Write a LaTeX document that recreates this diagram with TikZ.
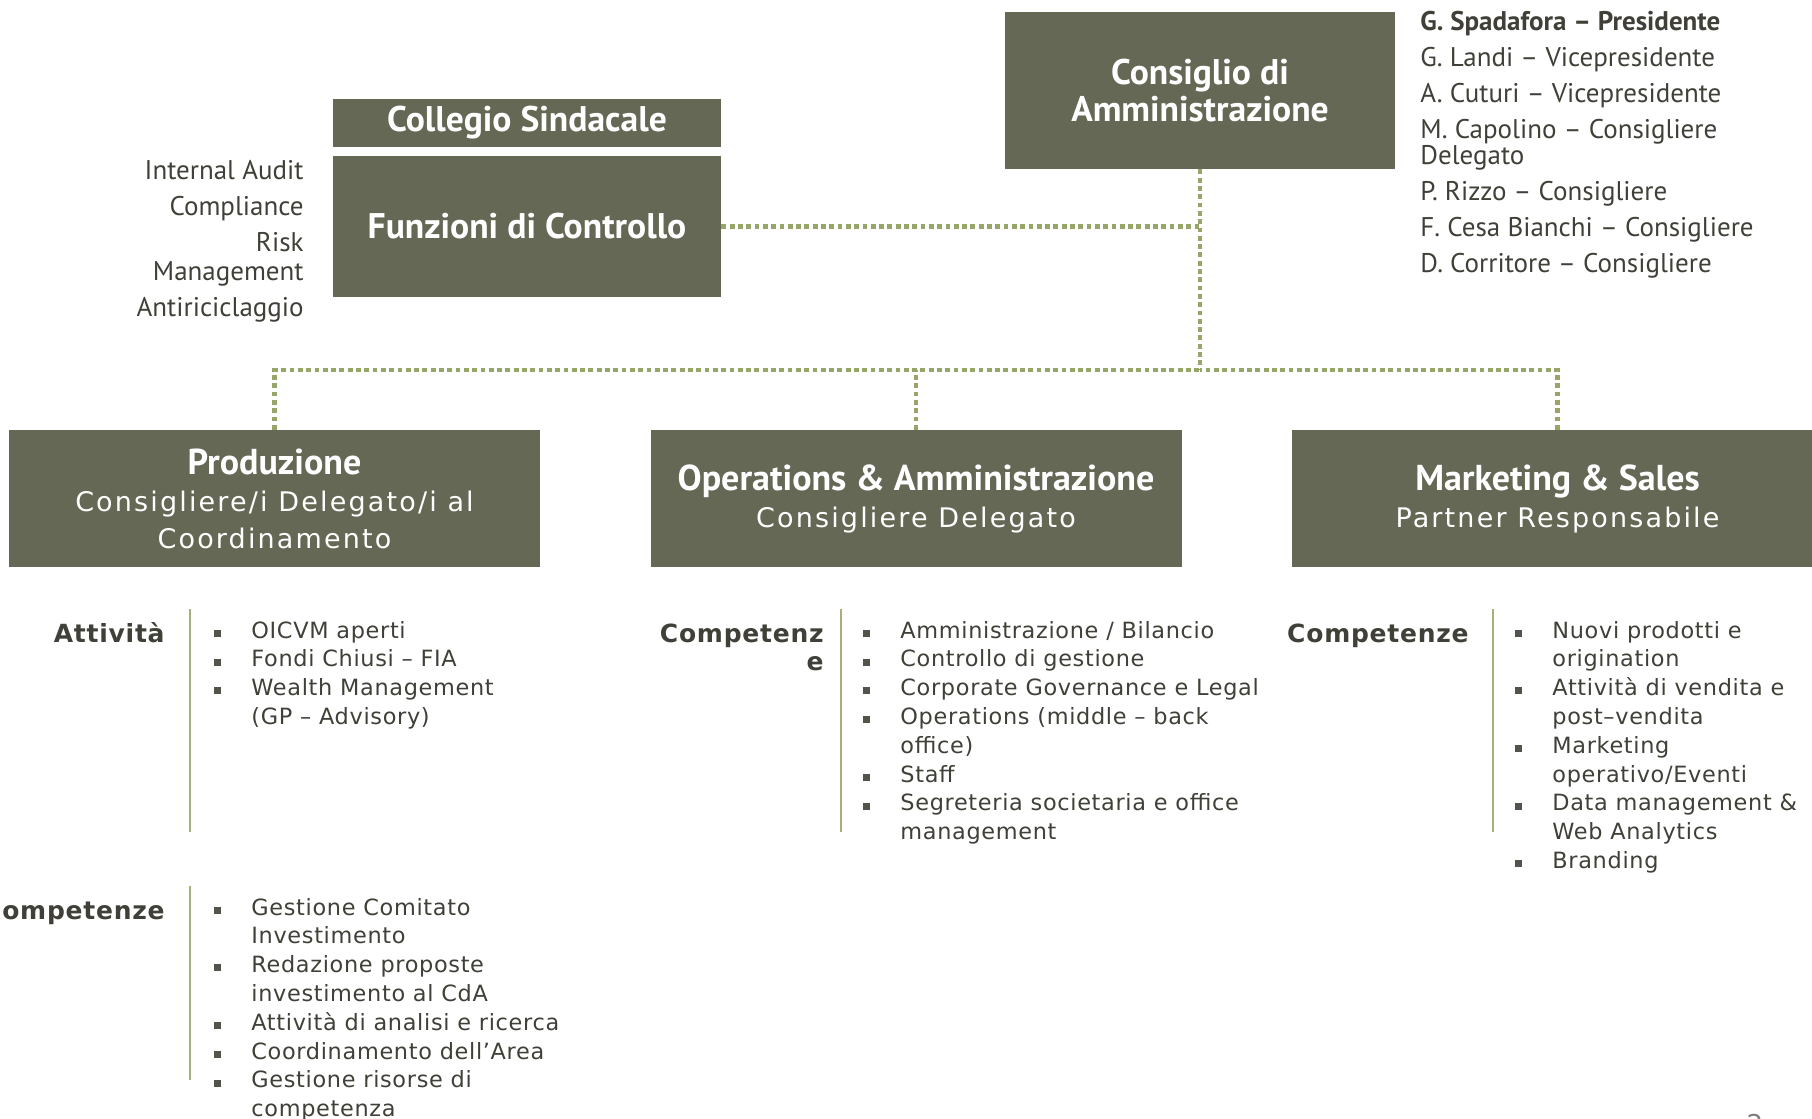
\documentclass[tikz,border=0pt]{standalone}
\usepackage{fontspec}
\setmainfont[LetterSpace=3]{DejaVu Sans}
\newfontfamily\subf[LetterSpace=8]{DejaVu Sans}
\newfontfamily\condf{PT Sans}
\usetikzlibrary{calc}
\definecolor{boxc}{RGB}{100,104,84}
\definecolor{txtc}{RGB}{64,64,56}
\definecolor{dotc}{RGB}{150,166,104}
\definecolor{sepc}{RGB}{163,178,124}
\newcommand\bul{\llap{\color{txtc!90}\rule[0.6pt]{3.5pt}{3.5pt}\hspace{15pt}}}
\newcommand\rowhead{\condf\bfseries\fontsize{18}{18.75}\selectfont}
\tikzset{
  orgbox/.style={fill=boxc,text=white,inner sep=0pt,align=center},
  topbox/.style={orgbox,font=\condf\bfseries\fontsize{17.8}{18.5}\selectfont},
  rowbox/.style={orgbox,minimum width=265.5pt,minimum height=68.5pt,font=\subf\fontsize{13.5}{18.5}\selectfont},
  link/.style={dotc,line width=2.4pt,dash pattern=on 2.4pt off 1.75pt},
  sepline/.style={sepc,line width=0.8pt},
  sidetext/.style={text=txtc,inner sep=0pt,font=\condf\fontsize{13.5}{18}\selectfont},
  head/.style={text=txtc,inner sep=0pt,anchor=base east,font=\bfseries\fontsize{12.5}{14}\selectfont},
  itemlist/.style={text=txtc,inner sep=0pt,align=left,anchor=base west,font=\fontsize{11.2}{14.4}\selectfont},
}
\begin{document}
\begin{tikzpicture}[x=0.5pt,y=-0.5pt]
  \useasboundingbox (0,0) rectangle (1812,1119);
  \node[topbox,minimum width=195pt,minimum height=78.5pt] (cda) at (1200,90.5) {Consiglio di\\Amministrazione};
  \node[topbox,minimum width=194pt,minimum height=24pt] (cs) at (527,123) {Collegio Sindacale};
  \node[topbox,minimum width=194pt,minimum height=70.5pt] (fc) at (527,226.5) {Funzioni di Controllo};
  \node[rowbox] (prod) at (274.5,498.5) {{\rowhead Produzione}\\Consigliere/i Delegato/i al\\Coordinamento};
  \node[rowbox] (ops) at (916,498.5) {{\rowhead Operations \& Amministrazione}\\Consigliere Delegato};
  \node[rowbox] (mkt) at (1557.5,498.5) {{\rowhead Marketing \& Sales}\\Partner Responsabile};

  \node[sidetext,align=left,anchor=base west] (board) at (1420,272) {{\bfseries G. Spadafora – Presidente}\\G. Landi – Vicepresidente\\A. Cuturi – Vicepresidente\\M. Capolino – Consigliere\\[-5pt]Delegato\\P. Rizzo – Consigliere\\F. Cesa Bianchi – Consigliere\\D. Corritore – Consigliere};
  \node[sidetext,align=right,anchor=base east] (ctrl) at (304,316) {Internal Audit\\Compliance\\Risk\\[-3.5pt]Management\\Antiriciclaggio};

  \coordinate (hub) at (1200,370);
  \draw[link] (cda.south) -- (hub);
  \draw[link] (fc.east) -- (fc.east -| hub);
  \draw[link] (prod.north) |- (hub);
  \draw[link] (mkt.north) |- (hub);
  \draw[link] (ops.north) -- (ops.north |- hub);

  \node[head] (att) at (165,642) {Attività};
  \node[head] (compa) at (165,919) {Competenze};
  \node[head,align=right] (compb) at (824,670) {Competenz\\e};
  \node[head] (compc) at (1469,642) {Competenze};

  \draw[sepline] (190,609) -- (190,832);
  \draw[sepline] (190,886) -- (190,1080);
  \draw[sepline] (841,609) -- (841,832);
  \draw[sepline] (1493,609) -- (1493,832);

  \node[itemlist] (lista) at (251,724.4) {\bul OICVM aperti\\\bul Fondi Chiusi – FIA\\\bul Wealth Management\\(GP – Advisory)};
  \node[itemlist] (listb) at (251,1116.6) {\bul Gestione Comitato\\Investimento\\\bul Redazione proposte\\investimento al CdA\\\bul Attività di analisi e ricerca\\\bul Coordinamento dell’Area\\\bul Gestione risorse di\\competenza};
  \node[itemlist] (listc) at (900,839.6) {\bul Amministrazione / Bilancio\\\bul Controllo di gestione\\\bul Corporate Governance e Legal\\\bul Operations (middle – back\\office)\\\bul Staff\\\bul Segreteria societaria e office\\management};
  \node[itemlist] (listd) at (1552,868.4) {\bul Nuovi prodotti e\\origination\\\bul Attività di vendita e\\post–vendita\\\bul Marketing\\operativo/Eventi\\\bul Data management \&\\Web Analytics\\\bul Branding};

  \node[text=gray,inner sep=0pt,anchor=base,font=\fontsize{13}{15}\selectfont] (page) at (1755,1133) {2};
\end{tikzpicture}
\end{document}
